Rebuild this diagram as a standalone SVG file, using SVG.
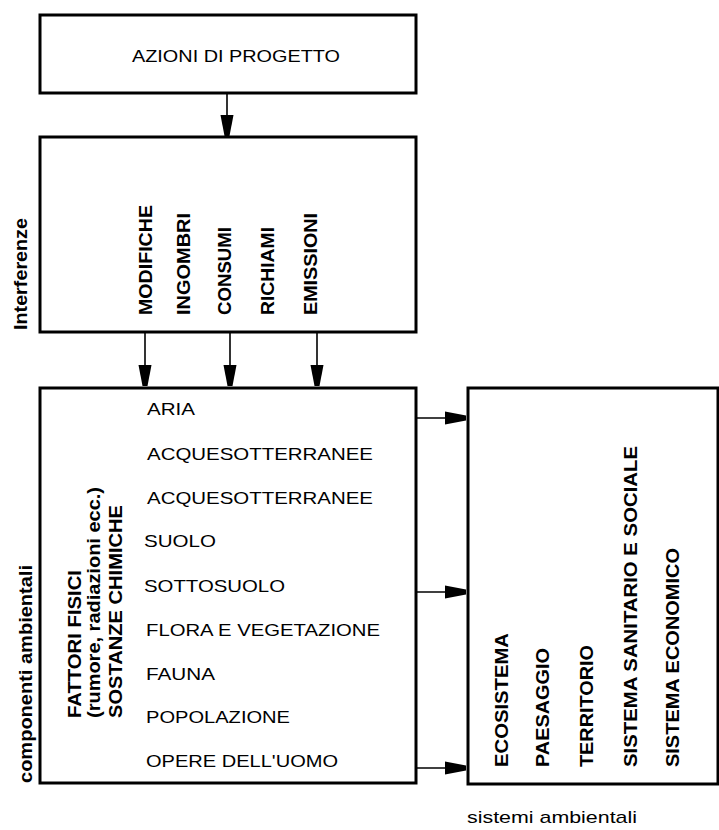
<svg xmlns="http://www.w3.org/2000/svg" width="719" height="830" viewBox="0 0 719 830">
<style>
.box{fill:#fff;stroke:#000;stroke-width:3}
.con{stroke:#000;stroke-width:1.6;fill:none}
.t{font-family:"Liberation Sans",Arial,sans-serif;font-size:17px;fill:#000}
.v{font-family:"Liberation Sans",Arial,sans-serif;font-size:18px;font-weight:bold;fill:#000}
</style>
<defs>
<marker id="ah" markerUnits="userSpaceOnUse" markerWidth="22" markerHeight="14" viewBox="0 0 22 14" refX="21" refY="7" orient="auto">
<path d="M0,0.5 L21,4.5 L21,9.5 L0,13.5 Z" fill="#000"/>
</marker>
</defs>
<rect width="719" height="830" fill="#fff"/>
<g id="azioni">
<rect class="box" x="40" y="15" width="376" height="78"/>
<text class="t" x="132" y="62" textLength="208" lengthAdjust="spacingAndGlyphs">AZIONI DI PROGETTO</text>
</g>
<g id="interferenze">
<rect class="box" x="40" y="137" width="376" height="195"/>
<text class="v" transform="translate(152,315) rotate(-90)" textLength="110" lengthAdjust="spacingAndGlyphs">MODIFICHE</text>
<text class="v" transform="translate(190,315) rotate(-90)" textLength="102" lengthAdjust="spacingAndGlyphs">INGOMBRI</text>
<text class="v" transform="translate(231,315) rotate(-90)" textLength="88" lengthAdjust="spacingAndGlyphs">CONSUMI</text>
<text class="v" transform="translate(274,315) rotate(-90)" textLength="88" lengthAdjust="spacingAndGlyphs">RICHIAMI</text>
<text class="v" transform="translate(317,315) rotate(-90)" textLength="102" lengthAdjust="spacingAndGlyphs">EMISSIONI</text>
<text class="v" transform="translate(27,330) rotate(-90)" textLength="112" lengthAdjust="spacingAndGlyphs" font-size="19">Interferenze</text>
</g>
<g id="componenti">
<rect class="box" x="40" y="388" width="376" height="395"/>
<text class="t" x="147" y="415" textLength="48" lengthAdjust="spacingAndGlyphs">ARIA</text>
<text class="t" x="147" y="460" textLength="226" lengthAdjust="spacingAndGlyphs">ACQUESOTTERRANEE</text>
<text class="t" x="147" y="504" textLength="226" lengthAdjust="spacingAndGlyphs">ACQUESOTTERRANEE</text>
<text class="t" x="144" y="547" textLength="72" lengthAdjust="spacingAndGlyphs">SUOLO</text>
<text class="t" x="144" y="592" textLength="141" lengthAdjust="spacingAndGlyphs">SOTTOSUOLO</text>
<text class="t" x="146" y="636" textLength="234" lengthAdjust="spacingAndGlyphs">FLORA E VEGETAZIONE</text>
<text class="t" x="146" y="680" textLength="69" lengthAdjust="spacingAndGlyphs">FAUNA</text>
<text class="t" x="146" y="723" textLength="144" lengthAdjust="spacingAndGlyphs">POPOLAZIONE</text>
<text class="t" x="146" y="767" textLength="192" lengthAdjust="spacingAndGlyphs">OPERE DELL'UOMO</text>
<text class="v" transform="translate(81,718) rotate(-90)" textLength="148" lengthAdjust="spacingAndGlyphs">FATTORI FISICI</text>
<text class="v" transform="translate(100,718) rotate(-90)" textLength="231" lengthAdjust="spacingAndGlyphs" font-size="16">(rumore, radiazioni ecc.)</text>
<text class="v" transform="translate(122,718) rotate(-90)" textLength="213" lengthAdjust="spacingAndGlyphs">SOSTANZE CHIMICHE</text>
<text class="v" transform="translate(32,783) rotate(-90)" textLength="218" lengthAdjust="spacingAndGlyphs" font-size="19">componenti ambientali</text>
</g>
<g id="sistemi">
<rect class="box" x="468" y="388" width="250" height="396"/>
<text class="v" transform="translate(508,767) rotate(-90)" textLength="134" lengthAdjust="spacingAndGlyphs">ECOSISTEMA</text>
<text class="v" transform="translate(549,767) rotate(-90)" textLength="119" lengthAdjust="spacingAndGlyphs">PAESAGGIO</text>
<text class="v" transform="translate(593,767) rotate(-90)" textLength="122" lengthAdjust="spacingAndGlyphs">TERRITORIO</text>
<text class="v" transform="translate(637,767) rotate(-90)" textLength="321" lengthAdjust="spacingAndGlyphs">SISTEMA SANITARIO E SOCIALE</text>
<text class="v" transform="translate(679,767) rotate(-90)" textLength="219" lengthAdjust="spacingAndGlyphs">SISTEMA ECONOMICO</text>
<text class="t" x="467" y="823" textLength="170" lengthAdjust="spacingAndGlyphs">sistemi ambientali</text>
</g>
<g id="connectors">
<line class="con" x1="227" y1="94" x2="227" y2="136" marker-end="url(#ah)"/>
<line class="con" x1="145" y1="333" x2="145" y2="386" marker-end="url(#ah)"/>
<line class="con" x1="230" y1="333" x2="230" y2="386" marker-end="url(#ah)"/>
<line class="con" x1="317" y1="333" x2="317" y2="386" marker-end="url(#ah)"/>
<line class="con" x1="417" y1="418" x2="466" y2="418" marker-end="url(#ah)"/>
<line class="con" x1="417" y1="592" x2="466" y2="592" marker-end="url(#ah)"/>
<line class="con" x1="417" y1="768" x2="466" y2="768" marker-end="url(#ah)"/>
</g>
</svg>
